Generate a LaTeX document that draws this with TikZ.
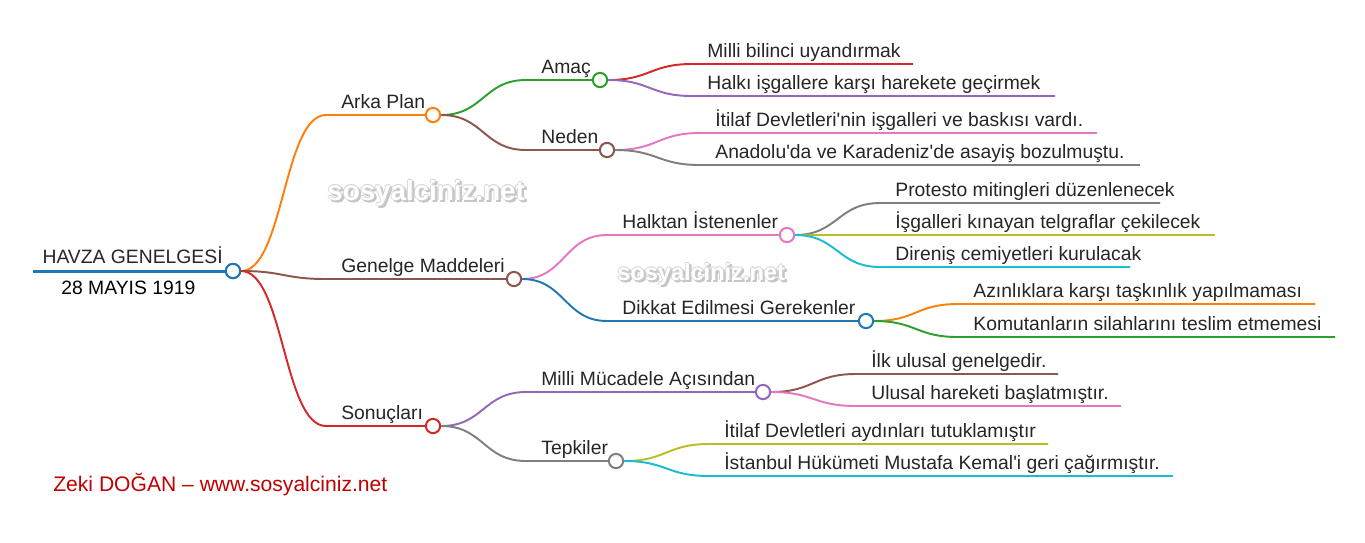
\documentclass[tikz,border=0pt]{standalone}
\usepackage{fontspec}
\setmainfont{Liberation Sans}[Ligatures=TeXOff]
\newfontfamily\wmfont{Liberation Sans}[BoldFont={Liberation Sans Bold}]
\usetikzlibrary{calc}
\definecolor{cblue}{HTML}{1F77B4}
\definecolor{corange}{HTML}{FF7F0E}
\definecolor{cgreen}{HTML}{2CA02C}
\definecolor{cred}{HTML}{D62728}
\definecolor{cpurple}{HTML}{9467BD}
\definecolor{cbrown}{HTML}{8C564B}
\definecolor{cpink}{HTML}{E377C2}
\definecolor{cgray}{HTML}{7F7F7F}
\definecolor{colive}{HTML}{BCBD22}
\definecolor{ccyan}{HTML}{17BECF}
\definecolor{ctext}{HTML}{262626}
\definecolor{cfoot}{RGB}{192,0,0}
\newcommand{\mmlink}[4]{%
  \draw[lnk,#1] let \p1=(#2), \p2=(#3) in (\p1) .. controls ({(\x1+\x2)/2},\y1) and ({(\x1+\x2)/2},\y2) .. (\p2) -- (#4);}
\newcommand{\wmark}[3]{%
  \foreach \dx/\dy in {2/2,2.6/2.6,1.6/2.4,2.4/1.6}{\node[wm,text=gray!45,font=\wmfont\bfseries\fontsize{#3}{#3}\selectfont] at ($(#1)+(\dx,\dy)$) {sosyalciniz.net};}
  \foreach \dx/\dy in {0.8/0,-0.8/0,0/0.8,0/-0.8}{\node[wm,text=gray!35,font=\wmfont\bfseries\fontsize{#3}{#3}\selectfont] at ($(#1)+(\dx,\dy)$) {sosyalciniz.net};}
  \node[wm,text=white,font=\wmfont\bfseries\fontsize{#3}{#3}\selectfont] (#2) at (#1) {sosyalciniz.net};}
\begin{document}
\begin{tikzpicture}[x=0.02cm,y=-0.02cm,
  lnk/.style={line width=1.1pt},
  mmdot/.style={circle,fill=white,line width=1.15pt,minimum size=0.285cm,inner sep=0pt},
  lbl/.style={anchor=base west,inner sep=0pt,text=ctext,font=\fontsize{11}{13}\selectfont},
  wm/.style={anchor=base west,inner sep=0pt}]
\useasboundingbox[fill=white] (0,0) rectangle (1365,542);

% watermarks
\coordinate (W1p) at (327,200);
\coordinate (W2p) at (617,280);
\wmark{W1p}{W1}{15.8}
\wmark{W2p}{W2}{13.4}

% root
\node[mmdot,draw=cblue] (R) at (233,271) {};
\coordinate (R0) at (33,271);
\draw[cblue,line width=1.7pt] (R0) -- (R.west);
\node[lbl,anchor=base east] (Rt) at (223,263) {HAVZA GENELGESİ};
\node[lbl,text=black] (Rd) at (61,294) {28 MAYIS 1919};

% level 1
\node[lbl] (At) at (341,108) {Arka Plan};
\coordinate (Ah) at (326,115);
\node[lbl] (Gt) at (341,272) {Genelge Maddeleri};
\coordinate (Gh) at (326,279);
\node[lbl] (St) at (341,419) {Sonuçları};
\coordinate (Sh) at (326,426);
\coordinate (Aw) at (426,115);
\coordinate (Gw) at (507,279);
\coordinate (Sw) at (426,426);
\mmlink{corange}{R.east}{Ah}{Aw}
\mmlink{cbrown}{R.east}{Gh}{Gw}
\mmlink{cred}{R.east}{Sh}{Sw}
\node[mmdot,draw=cblue] at (233,271) {};
\node[mmdot,draw=corange] (A) at (433,115) {};
\node[mmdot,draw=cbrown] (G) at (514,279) {};
\node[mmdot,draw=cred] (S) at (433,426) {};

% level 2
\node[lbl] (Amt) at (541,73) {Amaç};
\coordinate (Amh) at (526,80);
\node[lbl] (Net) at (541,143) {Neden};
\coordinate (Neh) at (526,150);
\node[lbl] (Hat) at (622,228) {Halktan İstenenler};
\coordinate (Hah) at (607,235);
\node[lbl] (Dit) at (622,314) {Dikkat Edilmesi Gerekenler};
\coordinate (Dih) at (607,321);
\node[lbl] (Mmt) at (541,385) {Milli Mücadele Açısından};
\coordinate (Mmh) at (526,392);
\node[lbl] (Tet) at (541,454) {Tepkiler};
\coordinate (Teh) at (526,461);
\coordinate (Amw) at (593,80)  ;
\coordinate (New) at (600,150);
\coordinate (Haw) at (780,235);
\coordinate (Diw) at (859,321);
\coordinate (Mmw) at (756,392);
\coordinate (Tew) at (609,461);
\mmlink{cgreen}{A.east}{Amh}{Amw}
\mmlink{cbrown}{A.east}{Neh}{New}
\mmlink{cpink}{G.east}{Hah}{Haw}
\mmlink{cblue}{G.east}{Dih}{Diw}
\mmlink{cpurple}{S.east}{Mmh}{Mmw}
\mmlink{cgray}{S.east}{Teh}{Tew}
\node[mmdot,draw=cgreen] (Am) at (600,80) {};
\node[mmdot,draw=cbrown] (Ne) at (607,150) {};
\node[mmdot,draw=cpink] (Ha) at (787,235) {};
\node[mmdot,draw=cblue] (Di) at (866,321) {};
\node[mmdot,draw=cpurple] (Mm) at (763,392) {};
\node[mmdot,draw=cgray] (Te) at (616,461) {};

% level 3 leaves
\node[lbl] (L1) at (707,57) {Milli bilinci uyandırmak};
\coordinate (L1s) at (692,64);  \coordinate (L1e) at (913,64);
\node[lbl] (L2) at (707,89) {Halkı işgallere karşı harekete geçirmek};
\coordinate (L2s) at (692,96);  \coordinate (L2e) at (1055,96);
\node[lbl] (L3) at (715,126) {İtilaf Devletleri'nin işgalleri ve baskısı vardı.};
\coordinate (L3s) at (700,133); \coordinate (L3e) at (1097,133);
\node[lbl] (L4) at (715,158) {Anadolu'da ve Karadeniz'de asayiş bozulmuştu.};
\coordinate (L4s) at (700,165); \coordinate (L4e) at (1140,165);
\node[lbl] (L5) at (895,196) {Protesto mitingleri düzenlenecek};
\coordinate (L5s) at (880,203); \coordinate (L5e) at (1160,203);
\node[lbl] (L6) at (895,228) {İşgalleri kınayan telgraflar çekilecek};
\coordinate (L6s) at (880,235); \coordinate (L6e) at (1215,235);
\node[lbl] (L7) at (895,260) {Direniş cemiyetleri kurulacak};
\coordinate (L7s) at (880,267); \coordinate (L7e) at (1130,267);
\node[lbl] (L8) at (973,297) {Azınlıklara karşı taşkınlık yapılmaması};
\coordinate (L8s) at (958,304); \coordinate (L8e) at (1315,304);
\node[lbl] (L9) at (973,330) {Komutanların silahlarını teslim etmemesi};
\coordinate (L9s) at (958,337); \coordinate (L9e) at (1335,337);
\node[lbl] (L10) at (871,367) {İlk ulusal genelgedir.};
\coordinate (L10s) at (856,374); \coordinate (L10e) at (1058,374);
\node[lbl] (L11) at (871,399) {Ulusal hareketi başlatmıştır.};
\coordinate (L11s) at (856,406); \coordinate (L11e) at (1121,406);
\node[lbl] (L12) at (724,437) {İtilaf Devletleri aydınları tutuklamıştır};
\coordinate (L12s) at (709,444); \coordinate (L12e) at (1048,444);
\node[lbl] (L13) at (724,469) {İstanbul Hükümeti Mustafa Kemal'i geri çağırmıştır.};
\coordinate (L13s) at (709,476); \coordinate (L13e) at (1173,476);

\mmlink{cred}{Am.east}{L1s}{L1e}
\mmlink{cpurple}{Am.east}{L2s}{L2e}
\mmlink{cpink}{Ne.east}{L3s}{L3e}
\mmlink{cgray}{Ne.east}{L4s}{L4e}
\mmlink{cgray}{Ha.east}{L5s}{L5e}
\mmlink{colive}{Ha.east}{L6s}{L6e}
\mmlink{ccyan}{Ha.east}{L7s}{L7e}
\mmlink{corange}{Di.east}{L8s}{L8e}
\mmlink{cgreen}{Di.east}{L9s}{L9e}
\mmlink{cbrown}{Mm.east}{L10s}{L10e}
\mmlink{cpink}{Mm.east}{L11s}{L11e}
\mmlink{colive}{Te.east}{L12s}{L12e}
\mmlink{ccyan}{Te.east}{L13s}{L13e}

% footer
\node[lbl,text=cfoot,font=\fontsize{12}{14}\selectfont] (F) at (53,491) {Zeki DOĞAN – www.sosyalciniz.net};
\end{tikzpicture}
\end{document}
